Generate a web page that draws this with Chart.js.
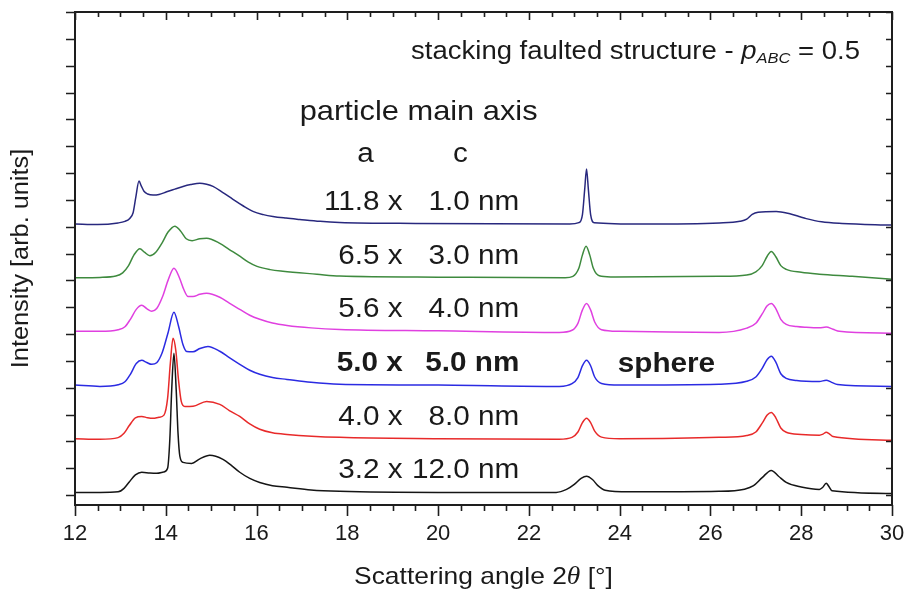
<!DOCTYPE html>
<html>
<head>
<meta charset="utf-8">
<script src="https://cdn.jsdelivr.net/npm/chart.js@4.4.1/dist/chart.umd.min.js"></script>
<style>
  html, body { margin: 0; padding: 0; background: #fff; }
  #wrap { width: 906px; height: 592px; }
</style>
</head>
<body>
<div id="wrap"><canvas id="xrdChart" width="906" height="592"></canvas></div>
<script>
// particle main axes (a x c), top curve first
var sizeA = ['11.8', '6.5', '5.6', '5.0', '4.0', '3.2'];
var sizeC = ['1.0', '3.0', '4.0', '5.0', '8.0', '12.0'];
// vertical stacking of the curves (arb. units)
var offsets = [10.1, 8.1, 6.1, 4.1, 2.1, 0.1];
var colors = ['#28287e', '#3e8a3e', '#e040e0', '#2b2be2', '#e82a2a', '#151515'];

// scattering angle 2theta [deg] and intensity above each curve's baseline
var angC1 = [12, 12.5, 12.95, 13.1, 13.2, 13.28, 13.34, 13.41, 13.46, 13.52, 13.6, 13.72, 13.85, 14.02, 14.2, 14.38, 14.55, 14.75, 14.9, 15.04, 15.25, 15.48, 15.7, 15.92, 16.15, 16.36, 16.65, 16.95, 17.4, 17.83, 19.5, 22.9, 23.1, 23.18, 23.23, 23.27, 23.31, 23.36, 23.44, 24.5, 26.2, 26.65, 26.8, 26.92, 27.05, 27.45, 27.75, 27.95, 28.11, 28.45, 28.9, 30];
var intC1 = [0, -0.02, 0.04, 0.1, 0.2, 0.42, 1.0, 1.6, 1.42, 1.22, 1.12, 1.08, 1.1, 1.2, 1.3, 1.4, 1.47, 1.52, 1.48, 1.4, 1.18, 0.92, 0.68, 0.47, 0.35, 0.28, 0.22, 0.17, 0.1, 0.06, 0.02, 0, 0.05, 0.35, 1.3, 2.05, 1.3, 0.35, 0.05, 0, 0.04, 0.1, 0.18, 0.36, 0.44, 0.47, 0.38, 0.28, 0.2, 0.08, 0.02, -0.04];

var angC3 = [12, 12.55, 12.9, 13.05, 13.18, 13.3, 13.43, 13.53, 13.65, 13.78, 13.92, 14.05, 14.2, 14.32, 14.45, 14.58, 14.75, 14.9, 15.19, 15.4, 15.63, 15.82, 16.01, 16.3, 16.58, 17.33, 17.83, 20, 22.8, 22.97, 23.1, 23.18, 23.26, 23.34, 23.42, 23.55, 23.8, 26.19, 26.8, 27.0, 27.14, 27.25, 27.34, 27.44, 27.55, 27.67, 28.0, 28.4, 29.12, 30];
var intC3 = [0, 0.01, 0.06, 0.18, 0.45, 0.85, 1.08, 0.95, 0.82, 0.95, 1.3, 1.7, 1.92, 1.75, 1.45, 1.38, 1.45, 1.47, 1.28, 1.05, 0.8, 0.58, 0.42, 0.3, 0.24, 0.13, 0.06, 0.02, 0, 0.05, 0.35, 0.85, 1.17, 0.85, 0.35, 0.07, 0.03, 0.05, 0.1, 0.22, 0.45, 0.8, 0.98, 0.78, 0.45, 0.31, 0.2, 0.13, 0.05, -0.06];

var angC4 = [12, 12.55, 12.95, 13.1, 13.22, 13.35, 13.47, 13.58, 13.69, 13.8, 13.93, 14.05, 14.18, 14.3, 14.4, 14.49, 14.6, 14.75, 14.9, 15.19, 15.4, 15.63, 15.85, 16.07, 16.35, 16.67, 17.2, 17.83, 20, 22.67, 22.95, 23.08, 23.18, 23.27, 23.36, 23.45, 23.6, 24, 26.19, 26.8, 27.0, 27.14, 27.25, 27.34, 27.44, 27.55, 27.67, 27.9, 28.11, 28.4, 28.55, 28.7, 28.84, 30];
var intC4 = [0, 0, 0.06, 0.17, 0.45, 0.82, 0.97, 0.85, 0.75, 0.85, 1.3, 1.9, 2.35, 2.0, 1.55, 1.3, 1.3, 1.38, 1.42, 1.27, 1.05, 0.82, 0.6, 0.45, 0.31, 0.22, 0.13, 0.07, 0.02, -0.04, 0.04, 0.3, 0.8, 1.04, 0.8, 0.35, 0.06, 0, -0.04, 0.12, 0.3, 0.65, 0.95, 1.04, 0.85, 0.45, 0.26, 0.18, 0.15, 0.13, 0.16, 0.08, 0, -0.07];

var angC5 = [12, 12.55, 12.95, 13.1, 13.22, 13.35, 13.47, 13.58, 13.69, 13.8, 13.92, 14.05, 14.18, 14.28, 14.38, 14.46, 14.6, 14.75, 14.93, 15.19, 15.4, 15.63, 15.85, 16.07, 16.35, 16.67, 17.2, 17.83, 20, 22.67, 22.95, 23.08, 23.18, 23.27, 23.36, 23.45, 23.6, 24, 26.19, 26.8, 27.0, 27.14, 27.25, 27.34, 27.44, 27.55, 27.67, 27.9, 28.11, 28.4, 28.55, 28.67, 28.8, 30];
var intC5 = [0, -0.05, 0.01, 0.12, 0.4, 0.8, 0.92, 0.84, 0.77, 0.83, 1.2, 1.95, 2.71, 2.2, 1.5, 1.25, 1.24, 1.36, 1.44, 1.26, 1.02, 0.77, 0.55, 0.4, 0.28, 0.21, 0.1, 0.03, 0, -0.05, 0.05, 0.28, 0.72, 0.92, 0.72, 0.3, 0.06, 0, 0.03, 0.14, 0.3, 0.62, 0.95, 1.07, 0.85, 0.42, 0.25, 0.17, 0.14, 0.13, 0.18, 0.1, 0.02, -0.05];

var angC8 = [12, 12.55, 12.95, 13.08, 13.2, 13.33, 13.47, 13.6, 13.72, 13.85, 13.96, 14.04, 14.1, 14.16, 14.22, 14.28, 14.34, 14.42, 14.6, 14.9, 15.19, 15.4, 15.63, 15.85, 16.07, 16.35, 16.67, 17.83, 20, 22.67, 22.95, 23.08, 23.18, 23.27, 23.36, 23.45, 23.6, 24, 26.19, 26.8, 27.0, 27.14, 27.25, 27.34, 27.44, 27.55, 27.67, 28.0, 28.4, 28.48, 28.55, 28.62, 28.7, 30];
var intC8 = [0, -0.02, 0.04, 0.2, 0.5, 0.78, 0.83, 0.78, 0.76, 0.8, 0.88, 1.5, 2.8, 3.74, 3.3, 2.2, 1.4, 1.2, 1.21, 1.39, 1.28, 1.05, 0.83, 0.55, 0.35, 0.22, 0.16, 0.05, 0, -0.02, 0.05, 0.25, 0.6, 0.76, 0.6, 0.28, 0.06, 0, 0.05, 0.12, 0.25, 0.58, 0.88, 0.98, 0.78, 0.4, 0.24, 0.16, 0.13, 0.17, 0.24, 0.18, 0.08, -0.06];

var angC12 = [12, 12.55, 12.95, 13.08, 13.2, 13.33, 13.47, 13.65, 13.8, 13.95, 14.04, 14.09, 14.13, 14.18, 14.23, 14.27, 14.31, 14.38, 14.57, 14.75, 14.97, 15.26, 15.45, 15.63, 15.85, 16.07, 16.35, 16.67, 17.2, 17.83, 20, 22.6, 22.83, 23.0, 23.15, 23.27, 23.4, 23.52, 23.68, 24.2, 26.19, 26.75, 26.95, 27.14, 27.34, 27.5, 27.67, 28.0, 28.4, 28.47, 28.55, 28.61, 28.68, 30];
var intC12 = [0, 0, 0.02, 0.15, 0.4, 0.65, 0.75, 0.72, 0.71, 0.76, 0.9, 2.0, 3.8, 5.18, 3.8, 2.2, 1.35, 1.12, 1.08, 1.25, 1.38, 1.23, 1.0, 0.75, 0.52, 0.37, 0.25, 0.19, 0.09, 0.04, 0, 0, 0.11, 0.3, 0.52, 0.6, 0.48, 0.25, 0.08, 0.02, 0.04, 0.12, 0.25, 0.55, 0.82, 0.6, 0.37, 0.2, 0.11, 0.18, 0.34, 0.22, 0.06, -0.04];

var angles = [angC1, angC3, angC4, angC5, angC8, angC12];
var intensities = [intC1, intC3, intC4, intC5, intC8, intC12];

var xTicksMin = 12, xTicksMax = 30, xMajor = 2, xMinor = 0.5;
var yMin = -0.37, yMax = 18;

var sans = '"Liberation Sans", Arial, sans-serif';
var stretch = 1.1;

var datasets = angles.map(function (ang, i) {
  return {
    label: sizeA[i] + ' x ' + sizeC[i] + ' nm',
    data: ang.map(function (a, j) { return { x: a, y: intensities[i][j] + offsets[i] }; }),
    borderColor: colors[i],
    borderWidth: 1.5,
    pointRadius: 0,
    fill: false,
    cubicInterpolationMode: 'monotone'
  };
});

// draw a row of text runs (mixed styles), slightly widened like the original
function drawRuns(ctx, runs, x, y, align) {
  var total = 0;
  runs.forEach(function (r) {
    ctx.font = r.font;
    r.w = ctx.measureText(r.text).width * stretch;
    total += r.w;
  });
  var start = align === 'center' ? x - total / 2 : (align === 'right' ? x - total : x);
  runs.forEach(function (r) {
    ctx.save();
    ctx.font = r.font;
    ctx.translate(start, y + (r.dy || 0));
    ctx.scale(stretch, 1);
    ctx.fillText(r.text, 0, 0);
    ctx.restore();
    start += r.w;
  });
}

var framePlugin = {
  id: 'framePlugin',
  afterDraw: function (chart) {
    var ctx = chart.ctx;
    var xs = chart.scales.x, ys = chart.scales.y;
    var a = chart.chartArea;
    ctx.save();
    ctx.strokeStyle = '#1e1e1e';
    ctx.lineWidth = 2;
    ctx.strokeRect(a.left, a.top, a.right - a.left, a.bottom - a.top);

    // x ticks: outward on bottom, inward on top
    ctx.lineWidth = 1.6;
    ctx.beginPath();
    for (var v = xTicksMin; v <= xTicksMax + 1e-6; v += xMinor) {
      var px = Math.round(xs.getPixelForValue(v)) + 0.5;
      var major = Math.abs(v / xMajor - Math.round(v / xMajor)) < 1e-6;
      ctx.moveTo(px, a.bottom);
      ctx.lineTo(px, a.bottom + (major ? 11 : 6));
      ctx.moveTo(px, a.top);
      ctx.lineTo(px, a.top + (major ? 8 : 5));
    }
    // y ticks: outward on left, inward on right
    for (var k = 0; k <= yMax; k++) {
      var py = Math.round(ys.getPixelForValue(k)) + 0.5;
      ctx.moveTo(a.left - 9, py);
      ctx.lineTo(a.left, py);
      ctx.moveTo(a.right - 6, py);
      ctx.lineTo(a.right, py);
    }
    ctx.stroke();

    ctx.fillStyle = '#1a1a1a';
    ctx.textBaseline = 'middle';

    // axis titles
    drawRuns(ctx, [
      { text: 'Scattering angle 2', font: '24px ' + sans },
      { text: '\u03b8', font: 'italic 25px "Liberation Serif", serif' },
      { text: ' [\u00b0]', font: '24px ' + sans }
    ], (a.left + a.right) / 2, 577, 'center');

    ctx.save();
    ctx.translate(22, (a.top + a.bottom) / 2);
    ctx.rotate(-Math.PI / 2);
    drawRuns(ctx, [{ text: 'Intensity [arb. units]', font: '23px ' + sans }], 0, 0, 'center');
    ctx.restore();

    // annotations
    drawRuns(ctx, [
      { text: 'stacking faulted structure - ', font: '25px ' + sans },
      { text: 'p', font: 'italic 25px ' + sans },
      { text: 'ABC', font: 'italic 15px ' + sans, dy: 7 },
      { text: ' = 0.5', font: '25px ' + sans }
    ], xs.getPixelForValue(24.35), ys.getPixelForValue(16.51), 'center');

    drawRuns(ctx, [{ text: 'particle main axis', font: '28px ' + sans }],
      xs.getPixelForValue(19.57), ys.getPixelForValue(14.27), 'center');
    drawRuns(ctx, [{ text: 'a', font: '27px ' + sans }],
      xs.getPixelForValue(18.4), ys.getPixelForValue(12.67), 'center');
    drawRuns(ctx, [{ text: 'c', font: '27px ' + sans }],
      xs.getPixelForValue(20.49), ys.getPixelForValue(12.67), 'center');

    for (var i = 0; i < sizeA.length; i++) {
      var bold = sizeA[i] === sizeC[i] ? 'bold ' : '';
      var yRow = ys.getPixelForValue(offsets[i] + 0.8);
      drawRuns(ctx, [{ text: sizeA[i] + ' x', font: bold + '27px ' + sans }],
        xs.getPixelForValue(19.22), yRow, 'right');
      drawRuns(ctx, [{ text: sizeC[i] + ' nm', font: bold + '27px ' + sans }],
        xs.getPixelForValue(21.79), yRow, 'right');
    }
    drawRuns(ctx, [{ text: 'sphere', font: 'bold 27px ' + sans }],
      xs.getPixelForValue(25.03), ys.getPixelForValue(offsets[3] + 0.78), 'center');

    ctx.restore();
  }
};

new Chart(document.getElementById('xrdChart'), {
  type: 'line',
  data: { datasets: datasets },
  options: {
    responsive: false,
    animation: false,
    devicePixelRatio: 1,
    layout: { padding: { top: 12, right: 14, left: 0, bottom: 0 } },
    plugins: { legend: { display: false }, tooltip: { enabled: false } },
    scales: {
      x: {
        type: 'linear',
        min: xTicksMin,
        max: xTicksMax,
        grid: { display: false, drawTicks: false },
        border: { display: false },
        ticks: {
          stepSize: xMajor,
          padding: 16,
          color: '#1a1a1a',
          font: { family: sans, size: 22 },
          maxRotation: 0
        },
        afterFit: function (scale) {
          scale.height = 87;
          scale.paddingLeft = 0;
          scale.paddingRight = 0;
        }
      },
      y: {
        type: 'linear',
        min: yMin,
        max: yMax,
        grid: { display: false, drawTicks: false },
        border: { display: false },
        ticks: { display: false, stepSize: 1 },
        afterFit: function (scale) { scale.width = 75; }
      }
    }
  },
  plugins: [framePlugin]
});
</script>
</body>
</html>
